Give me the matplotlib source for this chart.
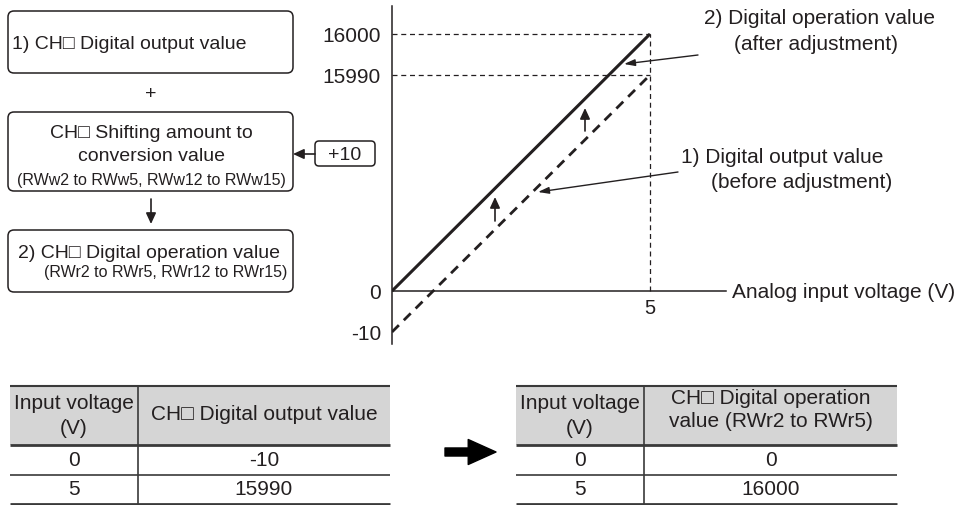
import numpy as np
import matplotlib
matplotlib.use("Agg")
import matplotlib.pyplot as plt
from matplotlib.patches import FancyBboxPatch, Rectangle
from matplotlib.scale import FuncScale

plt.rcParams['font.family'] = ['Liberation Sans', 'DejaVu Sans']

INK = '#231f20'

# chart data
volts = [0, 5]
output_before = [-10, 15990]   # 1) digital output value
output_after = [0, 16000]      # 2) digital operation value
shift_amount = 10
ytick_vals = [-10, 0, 15990, 16000]

# tables
t1_header = ['Input voltage\n(V)', 'CH\u25a1 Digital output value']
t2_header = ['Input voltage\n(V)', 'CH\u25a1 Digital operation\nvalue (RWr2 to RWr5)']

# schematic (broken) y scale: value -> pixel height above zero line
knots_v = [-100, -10, 0, 15990, 16000, 16100]
knots_s = [-410, -41, 0, 216, 257, 667]


def fwd(v):
    return np.interp(v, knots_v, knots_s)


def inv(s):
    return np.interp(s, knots_s, knots_v)


fig = plt.figure(figsize=(9.6, 5.06), dpi=100)

# pixel layer for the flow boxes and tables
bg = fig.add_axes([0, 0, 1, 1])
bg.set_xlim(0, 960)
bg.set_ylim(506, 0)
bg.axis('off')


def rbox(x0, y0, x1, y1, r=6):
    bg.add_patch(FancyBboxPatch((x0, y0), x1 - x0, y1 - y0,
                                boxstyle=f'round,pad=0,rounding_size={r}',
                                fc='white', ec=INK, lw=1.1))


small_head = dict(arrowstyle='-|>,head_length=0.65,head_width=0.3', mutation_scale=10,
                  color=INK, lw=1.2, shrinkA=0, shrinkB=0)

rbox(8, 12, 293, 74)
bg.text(12, 44, '1) CH\u25a1 Digital output value', fontsize=14, color=INK, va='center')
bg.text(151, 94, '+', fontsize=14, color=INK, ha='center', va='center')

rbox(8, 113, 293, 192)
bg.text(151, 133, 'CH\u25a1 Shifting amount to', fontsize=14, color=INK, ha='center', va='center')
bg.text(151, 156, 'conversion value', fontsize=14, color=INK, ha='center', va='center')
bg.text(151, 180, '(RWw2 to RWw5, RWw12 to RWw15)', fontsize=11.5, color=INK, ha='center', va='center')

rbox(315, 142, 375, 167, r=4)
bg.text(345, 155, f'+{shift_amount}', fontsize=14, color=INK, ha='center', va='center')
bg.annotate('', xy=(293, 155), xytext=(315, 155), arrowprops=small_head)
bg.annotate('', xy=(151, 225), xytext=(151, 200), arrowprops=small_head)

rbox(8, 231, 293, 293)
bg.text(18, 254, '2) CH\u25a1 Digital operation value', fontsize=14, color=INK, va='center')
bg.text(287, 273, '(RWr2 to RWr5, RWr12 to RWr15)', fontsize=11.5, color=INK, ha='right', va='center')

# chart annotations
bg.text(820, 18, '2) Digital operation value', fontsize=15, color=INK, ha='center', va='center')
bg.text(816, 44, '(after adjustment)', fontsize=15, color=INK, ha='center', va='center')
bg.text(782, 157, '1) Digital output value', fontsize=15, color=INK, ha='center', va='center')
bg.text(802, 182, '(before adjustment)', fontsize=15, color=INK, ha='center', va='center')
bg.text(732, 293, 'Analog input voltage (V)', fontsize=15, color=INK, va='center')

thin = dict(arrowstyle='-|>,head_length=0.65,head_width=0.2', mutation_scale=10,
            color=INK, lw=1.0, shrinkA=0, shrinkB=0)
bg.annotate('', xy=(624, 65), xytext=(698, 56), arrowprops=thin)
bg.annotate('', xy=(538, 193), xytext=(678, 173), arrowprops=thin)
bg.annotate('', xy=(585, 109), xytext=(585, 132), arrowprops=small_head)
bg.annotate('', xy=(495, 198), xytext=(495, 222), arrowprops=small_head)


# tables
def table(x0, xd, x1, header, head_y, col_a, col_b):
    bg.add_patch(Rectangle((x0, 387), x1 - x0, 59, fc='#d5d5d5', ec='none'))
    for y, lw in [(387, 1.5), (446, 2.0), (476, 1.2), (505, 2.0)]:
        bg.plot([x0, x1], [y, y], color='#3a3a3a', lw=lw, solid_capstyle='butt')
    bg.plot([xd, xd], [387, 505], color='#3a3a3a', lw=1.2)
    ca, cb = (x0 + xd) / 2, (xd + x1) / 2
    bg.text(ca, 416, header[0], fontsize=15, color=INK, ha='center', va='center', linespacing=1.4)
    bg.text(cb, head_y, header[1], fontsize=15, color=INK, ha='center', va='center', linespacing=1.25)
    for y, a, b in zip([461, 490], col_a, col_b):
        bg.text(ca, y, str(a), fontsize=15, color=INK, ha='center', va='center')
        bg.text(cb, y, str(b), fontsize=15, color=INK, ha='center', va='center')


table(10, 138, 390, t1_header, 415, volts, output_before)
table(516, 644, 897, t2_header, 410, volts, output_after)
bg.annotate('', xy=(496, 453), xytext=(445, 453),
            arrowprops=dict(arrowstyle='simple,head_length=2.0,head_width=1.8,tail_width=0.58',
                            mutation_scale=10, color='black', shrinkA=0, shrinkB=0))

# the graph
ax = fig.add_axes([392 / 960, (506 - 345) / 506, (960 - 392) / 960, (345 - 7) / 506])
ax.patch.set_alpha(0)
ax.set_yscale(FuncScale(ax, (fwd, inv)))
ax.set_xlim(0, (960 - 392) / 51.6)
ax.set_ylim(inv(292 - 345), inv(292 - 7))
for s in ['top', 'right', 'bottom']:
    ax.spines[s].set_visible(False)
ax.spines['left'].set_color(INK)
ax.spines['left'].set_linewidth(1.1)
ax.set_xticks([])
ax.set_yticks(ytick_vals)
ax.set_yticklabels([str(v) for v in ytick_vals])
ax.tick_params(axis='y', length=0, pad=8, labelsize=15, labelcolor=INK)

x_end = (726 - 392) / 51.6
ax.plot([0, x_end], [0, 0], color=INK, lw=1.1)
for v in output_after[1:] + output_before[1:]:
    ax.plot([0, volts[1]], [v, v], color=INK, lw=0.9, ls=(0, (4, 3)))
ax.plot([volts[1], volts[1]], [0, output_after[1]], color=INK, lw=0.9, ls=(0, (4, 3)))
ax.plot(volts, output_after, color=INK, lw=2.2, solid_capstyle='butt')
ax.plot(volts, output_before, color=INK, lw=2.0, ls=(0, (3.5, 2.5)))
ax.annotate(str(volts[1]), (volts[1], 0), xytext=(0, -5), textcoords='offset points',
            ha='center', va='top', fontsize=14.5, color=INK)

fig.savefig('out.png', dpi=100)
